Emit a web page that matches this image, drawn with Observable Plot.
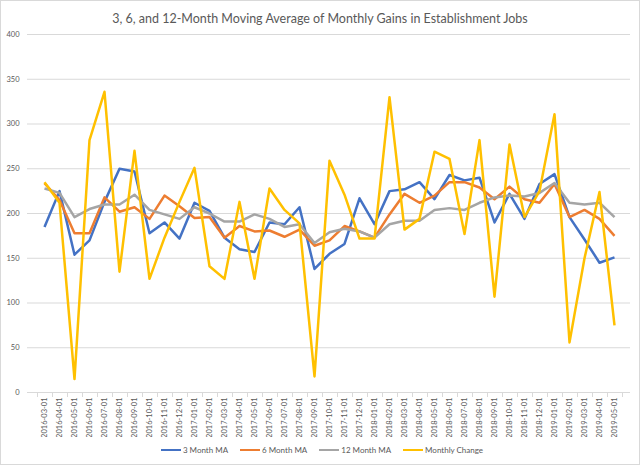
<!DOCTYPE html>
<html>
<head>
<meta charset="utf-8">
<script src="https://cdn.jsdelivr.net/npm/d3@7"></script>
<script src="https://cdn.jsdelivr.net/npm/@observablehq/plot@0.6"></script>
<style>
  body { margin: 0; background: #fff; }
  #chart { width: 640px; height: 465px; box-sizing: border-box; border: 1px solid #d9d9d9;
           font-family: Lato, "Open Sans", sans-serif; color: #595959; background: #fff; overflow: hidden; }
  #title { height: 27px; line-height: 36px; text-align: center; font-size: 12.5px; white-space: nowrap; }
  #plot svg { display: block; }
  #legend { height: 26px; display: flex; justify-content: center; align-items: center; font-size: 8px; gap: 12px; padding-left: 4px; }
  .item { display: flex; align-items: center; gap: 2px; }
  .sw { width: 20px; height: 2.5px; }
</style>
</head>
<body>
<div id="chart">
  <div id="title">3, 6, and 12-Month Moving Average of Monthly Gains in Establishment Jobs</div>
  <div id="plot"></div>
  <div id="legend"></div>
</div>
<script>
const dates = ["2016-03-01","2016-04-01","2016-05-01","2016-06-01","2016-07-01","2016-08-01","2016-09-01","2016-10-01","2016-11-01","2016-12-01",
  "2017-01-01","2017-02-01","2017-03-01","2017-04-01","2017-05-01","2017-06-01","2017-07-01","2017-08-01","2017-09-01","2017-10-01",
  "2017-11-01","2017-12-01","2018-01-01","2018-02-01","2018-03-01","2018-04-01","2018-05-01","2018-06-01","2018-07-01","2018-08-01",
  "2018-09-01","2018-10-01","2018-11-01","2018-12-01","2019-01-01","2019-02-01","2019-03-01","2019-04-01","2019-05-01"];
const ma3 = [185, 225, 154, 170, 213, 250, 247, 178, 190, 172, 212, 203, 173, 160, 157, 190, 188, 207, 138, 155,
  166, 217, 188, 225, 227, 235, 216, 243, 237, 240, 190, 222, 194, 233, 244, 196, 171, 145, 151];
const ma6 = [234, 215, 178, 178, 218, 202, 207, 194, 220, 208, 195, 196, 173, 186, 180, 181, 174, 182, 164, 170,
  186, 180, 173, 199, 222, 212, 220, 235, 235, 229, 216, 230, 216, 212, 233, 196, 204, 194, 175];
const ma12 = [228, 223, 196, 205, 210, 210, 221, 204, 199, 194, 207, 200, 191, 191, 199, 194, 185, 188, 167, 179,
  183, 180, 173, 188, 192, 192, 204, 206, 204, 212, 218, 220, 219, 223, 234, 212, 210, 212, 196];
const monthly = [235, 212, 15, 282, 336, 135, 270, 127, 173, 213, 251, 141, 127, 213, 127, 228, 204, 189, 18, 259,
  221, 172, 172, 330, 182, 194, 269, 261, 177, 282, 107, 277, 196, 225, 311, 56, 150, 224, 75];
const seriesNames = ["3 Month MA", "6 Month MA", "12 Month MA", "Monthly Change"];
const seriesColors = ["#4472C4", "#ED7D31", "#A5A5A5", "#FFC000"];
const yTicks = [0, 50, 100, 150, 200, 250, 300, 350, 400];

const allSeries = [ma3, ma6, ma12, monthly];
const data = allSeries.flatMap((vals, s) => vals.map((v, i) => ({date: dates[i], series: seriesNames[s], value: v})));

// category boundary tick marks (Excel style), positioned from the x scale
function boundaryTicks(index, scales, values, dims) {
  const x = scales.x;
  const step = x(dates[1]) - x(dates[0]);
  const y0 = scales.y(0);
  const g = d3.create("svg:g").attr("stroke", "#d9d9d9").attr("stroke-width", 1);
  for (let i = 0; i <= dates.length; i++) {
    const xp = Math.round(x(dates[0]) - step / 2 + i * step) + 0.5;
    g.append("line").attr("x1", xp).attr("x2", xp).attr("y1", y0).attr("y2", y0 + 5);
  }
  return g.node();
}

const chart = Plot.plot({
  width: 638,
  height: 409,
  marginTop: 6,
  marginLeft: 26,
  marginRight: 9,
  marginBottom: 45,
  style: {fontFamily: "Lato, 'Open Sans', sans-serif", color: "#595959", background: "#fff"},
  x: {type: "point", domain: dates, padding: 0.5, label: null},
  y: {domain: [0, 400], label: null},
  color: {domain: seriesNames, range: seriesColors},
  marks: [
    Plot.gridY(yTicks, {stroke: "#d9d9d9", strokeOpacity: 1}),
    Plot.axisY(yTicks, {tickSize: 0, tickPadding: 8, fontSize: 7.5, fill: "#595959", label: null}),
    Plot.axisX({tickSize: 0, tickPadding: 5, tickRotate: -90, fontSize: 7.5, fill: "#595959", label: null}),
    boundaryTicks,
    Plot.line(data, {x: "date", y: "value", z: "series", stroke: "series", strokeWidth: 2.5, strokeLinejoin: "round", strokeLinecap: "butt", curve: "linear"})
  ]
});
document.getElementById("plot").appendChild(chart);

const legend = document.getElementById("legend");
seriesNames.forEach((name, i) => {
  const item = document.createElement("div");
  item.className = "item";
  const sw = document.createElement("div");
  sw.className = "sw";
  sw.style.background = seriesColors[i];
  const label = document.createElement("span");
  label.textContent = name;
  item.appendChild(sw);
  item.appendChild(label);
  legend.appendChild(item);
});
</script>
</body>
</html>
